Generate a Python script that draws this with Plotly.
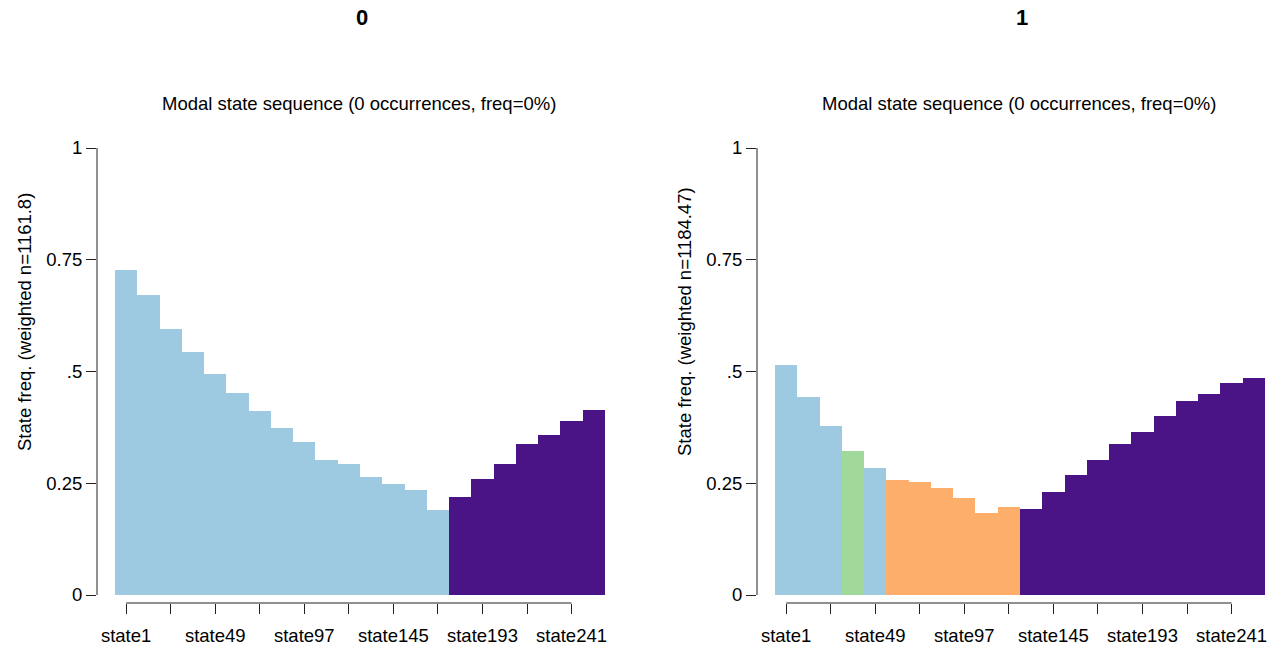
import plotly.graph_objects as go

# ---------------- data ----------------
positions = ["state1", "state13", "state25", "state37", "state49", "state61", "state73",
             "state85", "state97", "state109", "state121", "state133", "state145", "state157",
             "state169", "state181", "state193", "state205", "state217", "state229",
             "state241", "state253"]

tick_positions = ["state1", "state25", "state49", "state73", "state97", "state121",
                  "state145", "state169", "state193", "state217", "state241"]
tick_labels = ["state1", "", "state49", "", "state97", "", "state145", "", "state193", "", "state241"]

freq_0 = [0.727, 0.671, 0.594, 0.544, 0.494, 0.453, 0.411, 0.373, 0.343, 0.301, 0.293,
          0.263, 0.249, 0.234, 0.190, 0.219, 0.260, 0.293, 0.338, 0.359, 0.390, 0.414]
modal_0 = ["A"] * 15 + ["D"] * 7

freq_1 = [0.515, 0.444, 0.379, 0.323, 0.284, 0.258, 0.252, 0.240, 0.216, 0.183, 0.196,
          0.192, 0.231, 0.269, 0.302, 0.337, 0.364, 0.400, 0.435, 0.450, 0.474, 0.485]
modal_1 = ["A", "A", "A", "B", "A", "C", "C", "C", "C", "C", "C",
           "D", "D", "D", "D", "D", "D", "D", "D", "D", "D", "D"]

panel_titles = ["0", "1"]
subtitles = ["Modal state sequence (0 occurrences, freq=0%)",
             "Modal state sequence (0 occurrences, freq=0%)"]
ylabels = ["State freq. (weighted n=1161.8)", "State freq. (weighted n=1184.47)"]

y_tickvals = [0, 0.25, 0.5, 0.75, 1]
y_ticktext = ["0", "0.25", ".5", "0.75", "1"]

state_colors = {"A": "#9ECAE1", "B": "#A1D99B", "C": "#FDAE6B", "D": "#4A1486"}

# ---------------- layout helpers ----------------
W, H = 1269, 647
FONT = "Liberation Sans, Arial, sans-serif"
FS = 18.5


def px(x):
    return x / W


def py(y):
    return 1 - y / H


fig = go.Figure()

panels = [
    dict(freq=freq_0, modal=modal_0, xdom=(97, 615), title_x=362, sub_x=359, ylab_x=24),
    dict(freq=freq_1, modal=modal_1, xdom=(757, 1269), title_x=1022, sub_x=1019, ylab_x=684),
]

bar_px = 22.27
y_bottom = -8 / 447

for i, p in enumerate(panels):
    sfx = "" if i == 0 else str(i + 1)
    xa = "x" + sfx
    ya = "y" + sfx
    fig.add_trace(go.Bar(
        x=positions, y=p["freq"],
        marker=dict(color=[state_colors[s] for s in p["modal"]], line=dict(width=0)),
        width=1.0, xaxis=xa, yaxis=ya, showlegend=False,
    ))
    left, right = p["xdom"]
    x0 = -0.5 - 18 / bar_px
    x1 = x0 + (right - left) / bar_px
    fig.update_layout(**{
        "xaxis" + sfx: dict(
            domain=[px(left), px(right)], anchor=ya, type="category",
            categoryorder="array", categoryarray=positions,
            range=[x0, x1], showgrid=False, zeroline=False, showline=False,
            tickmode="array", tickvals=tick_positions, ticktext=tick_labels,
            ticks="outside", ticklen=10, tickwidth=1, tickcolor="#222222",
            ticklabelstandoff=6,
            tickfont=dict(family=FONT, size=FS, color="black"),
            automargin=False, fixedrange=True,
        ),
        "yaxis" + sfx: dict(
            domain=[py(603), py(148)], anchor=xa,
            range=[y_bottom, 1], showgrid=False, zeroline=False, showline=False,
            tickmode="array", tickvals=y_tickvals, ticktext=y_ticktext,
            ticks="outside", ticklen=10, tickwidth=1, tickcolor="#222222",
            tickfont=dict(family=FONT, size=FS, color="black"),
            automargin=False, fixedrange=True,
        ),
    })
    fig.add_shape(type="line", xref=xa + " domain", yref=ya, x0=0, x1=0, y0=0, y1=1,
                  line=dict(color="#222222", width=1))
    fig.add_shape(type="line", xref=xa, yref=ya + " domain", x0=0, x1=20, y0=0, y1=0,
                  line=dict(color="#222222", width=1))
    fig.add_annotation(text="<b>" + panel_titles[i] + "</b>", xref="paper", yref="paper",
                       x=px(p["title_x"]), y=py(17), showarrow=False,
                       xanchor="center", yanchor="middle",
                       font=dict(family=FONT, size=22, color="black"))
    fig.add_annotation(text=subtitles[i], xref="paper", yref="paper",
                       x=px(p["sub_x"]), y=py(103), showarrow=False,
                       xanchor="center", yanchor="middle",
                       font=dict(family=FONT, size=FS, color="black"))
    fig.add_annotation(text=ylabels[i], xref="paper", yref="paper",
                       x=px(p["ylab_x"]), y=py(322), showarrow=False, textangle=-90,
                       xanchor="center", yanchor="middle",
                       font=dict(family=FONT, size=FS, color="black"))

fig.update_layout(
    width=W, height=H,
    margin=dict(l=0, r=0, t=0, b=0, autoexpand=False),
    plot_bgcolor="white", paper_bgcolor="white",
    bargap=0,
)

fig.write_html(
    "out.html",
    config={"displayModeBar": False, "staticPlot": True},
    post_script="document.body.style.margin='0';document.body.style.padding='0';"
                "document.body.style.overflow='hidden';",
)
